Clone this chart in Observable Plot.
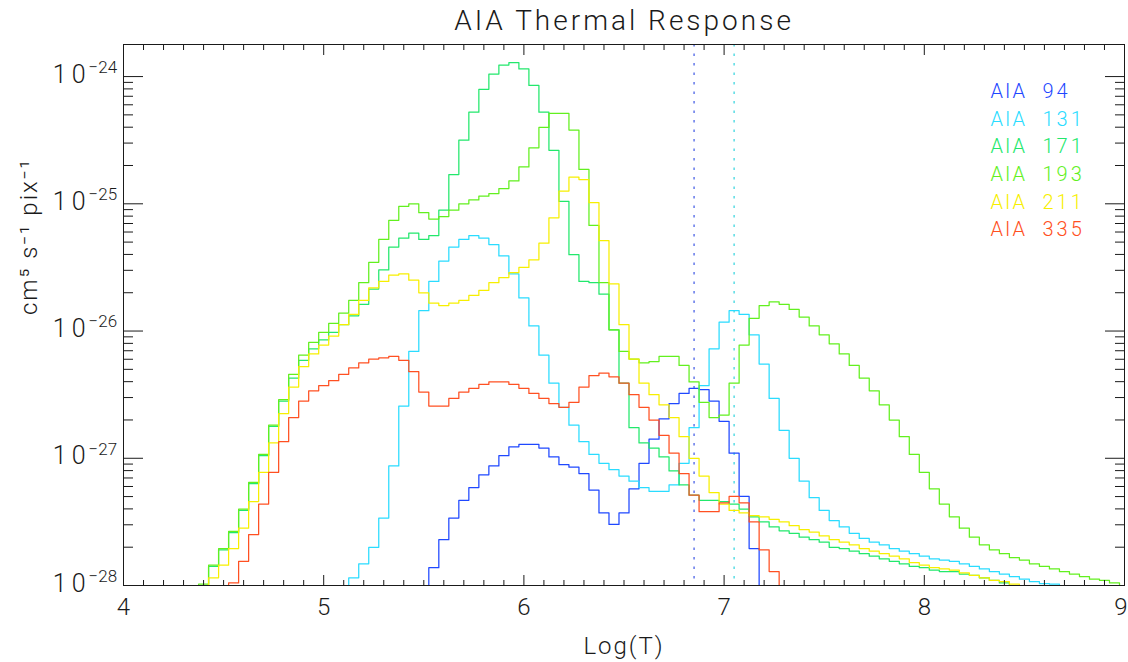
<!DOCTYPE html>
<html>
<head>
<meta charset="utf-8">
<script src="https://cdn.jsdelivr.net/npm/d3@7"></script>
<script src="https://cdn.jsdelivr.net/npm/@observablehq/plot@0.6"></script>
<style>
  html, body { margin: 0; padding: 0; background: #fff; }
  #chart svg { display: block; }
</style>
</head>
<body>
<div id="chart"></div>
<script>
// Temperature grid (log10 T)
const logT = [
  4.00,4.05,4.10,4.15,4.20,4.25,4.30,4.35,4.40,4.45,
  4.50,4.55,4.60,4.65,4.70,4.75,4.80,4.85,4.90,4.95,
  5.00,5.05,5.10,5.15,5.20,5.25,5.30,5.35,5.40,5.45,
  5.50,5.55,5.60,5.65,5.70,5.75,5.80,5.85,5.90,5.95,
  6.00,6.05,6.10,6.15,6.20,6.25,6.30,6.35,6.40,6.45,
  6.50,6.55,6.60,6.65,6.70,6.75,6.80,6.85,6.90,6.95,
  7.00,7.05,7.10,7.15,7.20,7.25,7.30,7.35,7.40,7.45,
  7.50,7.55,7.60,7.65,7.70,7.75,7.80,7.85,7.90,7.95,
  8.00,8.05,8.10,8.15,8.20,8.25,8.30,8.35,8.40,8.45,
  8.50,8.55,8.60,8.65,8.70,8.75,8.80,8.85,8.90,8.95,
  9.00
];

const channels = ["94", "131", "171", "193", "211", "335"];
const channelColors = ["#1f48ff", "#2adcff", "#22e86c", "#62f01e", "#f7ef00", "#ff5022"];

// log10 of response (cm^5 s^-1 pix^-1), each series starts at the given log T
const from94 = 5.50;
const resp94 = [-28.5,-27.86,-27.64,-27.47,-27.33,-27.23,-27.13,-27.06,-26.98,-26.91,
  -26.89,-26.89,-26.92,-26.99,-27.05,-27.07,-27.12,-27.25,-27.43,-27.52,
  -27.43,-27.24,-27.04,-26.85,-26.69,-26.57,-26.49,-26.45,-26.46,-26.55,
  -26.71,-26.96,-27.30,-27.71,-28.5];

const from131 = 5.10;
const resp131 = [-28.3,-27.94,-27.83,-27.70,-27.47,-27.06,-26.59,-26.16,-25.84,-25.61,
  -25.45,-25.34,-25.28,-25.25,-25.27,-25.32,-25.41,-25.55,-25.74,-25.96,
  -26.19,-26.41,-26.60,-26.74,-26.87,-26.97,-27.04,-27.09,-27.14,-27.18,
  -27.23,-27.26,-27.26,-27.21,-27.04,-26.76,-26.43,-26.14,-25.93,-25.84,
  -25.87,-26.03,-26.26,-26.53,-26.78,-27.00,-27.18,-27.31,-27.41,-27.49,
  -27.54,-27.59,-27.63,-27.66,-27.68,-27.71,-27.73,-27.75,-27.77,-27.79,
  -27.80,-27.81,-27.83,-27.85,-27.87,-27.89,-27.91,-27.93,-27.95,-27.97,
  -27.985,-27.99,-28.00,-28.02,-28.05];

const from171 = 4.35;
const resp171 = [-28.3,-28.00,-27.85,-27.72,-27.585,-27.41,-27.20,-26.98,-26.75,-26.55,
  -26.37,-26.23,-26.14,-26.07,-26.01,-25.95,-25.88,-25.79,-25.67,-25.52,
  -25.34,-25.27,-25.23,-25.28,-25.25,-25.05,-24.77,-24.50,-24.28,-24.10,
  -23.98,-23.91,-23.89,-23.94,-24.07,-24.28,-24.58,-24.98,-25.40,-25.61,
  -25.62,-25.71,-25.99,-26.41,-26.76,-26.88,-26.92,-26.99,-27.10,-27.21,
  -27.29,-27.33,-27.33,-27.34,-27.36,-27.40,-27.46,-27.50,-27.54,-27.57,
  -27.59,-27.62,-27.64,-27.66,-27.70,-27.71,-27.73,-27.75,-27.77,-27.79,
  -27.81,-27.83,-27.85,-27.86,-27.88,-27.89,-27.89,-27.91,-27.92,-27.94,
  -27.96,-27.98,-28.00,-28.02,-28.04];

const from193 = 4.35;
const resp193 = [-28.3,-27.99,-27.84,-27.71,-27.575,-27.40,-27.19,-26.97,-26.74,-26.54,
  -26.34,-26.19,-26.09,-26.01,-25.94,-25.86,-25.76,-25.62,-25.46,-25.28,
  -25.13,-25.02,-25.00,-25.07,-25.12,-25.10,-25.05,-25.00,-24.97,-24.94,
  -24.92,-24.88,-24.82,-24.71,-24.56,-24.40,-24.29,-24.29,-24.42,-24.73,
  -25.17,-25.62,-25.99,-26.16,-26.22,-26.25,-26.24,-26.20,-26.20,-26.27,
  -26.40,-26.56,-26.68,-26.66,-26.41,-26.11,-25.90,-25.80,-25.77,-25.79,
  -25.83,-25.89,-25.96,-26.03,-26.10,-26.18,-26.27,-26.37,-26.47,-26.58,
  -26.70,-26.83,-26.97,-27.11,-27.24,-27.36,-27.46,-27.55,-27.62,-27.68,
  -27.72,-27.75,-27.78,-27.80,-27.83,-27.85,-27.87,-27.89,-27.91,-27.93,
  -27.95,-27.96,-27.98,-28.00];

const from211 = 4.40;
const resp211 = [-28.3,-27.94,-27.84,-27.71,-27.55,-27.34,-27.11,-26.88,-26.65,-26.44,
  -26.28,-26.18,-26.11,-26.04,-25.95,-25.87,-25.76,-25.66,-25.61,-25.56,
  -25.55,-25.60,-25.70,-25.78,-25.80,-25.78,-25.76,-25.72,-25.68,-25.62,
  -25.58,-25.54,-25.50,-25.44,-25.31,-25.11,-24.90,-24.79,-24.81,-24.99,
  -25.29,-25.63,-25.95,-26.22,-26.41,-26.50,-26.58,-26.68,-26.83,-27.00,
  -27.14,-27.27,-27.36,-27.41,-27.43,-27.45,-27.46,-27.48,-27.50,-27.53,
  -27.56,-27.58,-27.61,-27.64,-27.66,-27.68,-27.71,-27.73,-27.75,-27.77,
  -27.79,-27.82,-27.84,-27.86,-27.87,-27.88,-27.90,-27.92,-27.94,-27.96,
  -27.97,-27.99,-28.00,-28.03,-28.05];

const from335 = 4.50;
const resp335 = [-28.3,-27.98,-27.81,-27.60,-27.36,-27.11,-26.87,-26.68,-26.55,-26.47,
  -26.43,-26.39,-26.34,-26.29,-26.25,-26.22,-26.21,-26.20,-26.23,-26.32,
  -26.48,-26.59,-26.59,-26.53,-26.48,-26.45,-26.42,-26.40,-26.40,-26.42,
  -26.45,-26.49,-26.53,-26.57,-26.60,-26.56,-26.44,-26.35,-26.33,-26.36,
  -26.41,-26.50,-26.60,-26.70,-26.82,-26.96,-27.12,-27.29,-27.42,-27.42,
  -27.35,-27.30,-27.35,-27.50,-27.72,-27.89,-28.5];

// Peak temperatures marked with dotted lines (94 and 131)
const peakLogT = [6.85, 7.05];
const peakColors = ["#4a62e6", "#3fd6e0"];

// Axis ticks and labels
const xMajor = [4, 5, 6, 7, 8, 9];
const yMajorExp = [-24, -25, -26, -27, -28];
const titleText = "AIA Thermal Response";
const xLabel = "Log(T)";
const yLabel = "cm\u2075 s\u207B\u00B9 pix\u207B\u00B9";

const seriesList = [
  [from94, resp94], [from131, resp131], [from171, resp171],
  [from193, resp193], [from211, resp211], [from335, resp335]
];

function buildRows(ch, from, vals) {
  const i0 = logT.findIndex(t => Math.abs(t - from) < 1e-9);
  return vals.map((v, i) => ({channel: ch, logT: logT[i0 + i], resp: Math.pow(10, v)}));
}

const xMinor = [];
for (let a = 4; a < 9; a++) for (let b = 1; b <= 9; b++) xMinor.push(+(a + b / 10).toFixed(1));
const yMinor = [];
for (let e = -28; e <= -25; e++) for (let m = 2; m <= 9; m++) yMinor.push(m * Math.pow(10, e));
const yMajor = yMajorExp.map(e => Math.pow(10, e));

const yTop = Math.pow(10, -23.748);
const font = "Roboto, 'DejaVu Sans', sans-serif";
const ink = "#1a1a1a";

const marks = [];

// dotted peak-temperature lines
peakLogT.forEach((t, i) => {
  marks.push(Plot.ruleX([t], {x: d => d, stroke: peakColors[i], strokeWidth: 1.3, strokeDasharray: "2.5,7"}));
});

// response curves
seriesList.forEach(([from, vals], i) => {
  marks.push(Plot.line(buildRows(channels[i], from, vals), {
    x: "logT", y: "resp", curve: "step", stroke: channelColors[i], strokeWidth: 1.25, clip: true
  }));
});

// frame and inward ticks
marks.push(Plot.frame({stroke: ink, strokeWidth: 1}));
marks.push(Plot.axisX({anchor: "bottom", ticks: xMajor, tickSize: 10, dy: -10, tickFormat: () => "", label: null, stroke: ink}));
marks.push(Plot.axisX({anchor: "bottom", ticks: xMinor, tickSize: 5, dy: -5, tickFormat: () => "", label: null, stroke: ink}));
marks.push(Plot.axisX({anchor: "top", ticks: xMajor, tickSize: 10, dy: 10, tickFormat: () => "", label: null, stroke: ink}));
marks.push(Plot.axisX({anchor: "top", ticks: xMinor, tickSize: 5, dy: 5, tickFormat: () => "", label: null, stroke: ink}));
marks.push(Plot.axisY({anchor: "left", ticks: yMajor, tickSize: 20, dx: 20, tickFormat: () => "", label: null, stroke: ink}));
marks.push(Plot.axisY({anchor: "left", ticks: yMinor, tickSize: 10, dx: 10, tickFormat: () => "", label: null, stroke: ink}));
marks.push(Plot.axisY({anchor: "right", ticks: yMajor, tickSize: 20, dx: -20, tickFormat: () => "", label: null, stroke: ink}));
marks.push(Plot.axisY({anchor: "right", ticks: yMinor, tickSize: 10, dx: -10, tickFormat: () => "", label: null, stroke: ink}));

// x tick labels (last one kept inside the picture)
marks.push(Plot.text(xMajor.slice(0, -1), {x: d => d, frameAnchor: "bottom", dy: 22, text: d => String(d), fontSize: 24, lineAnchor: "middle", fill: ink}));
marks.push(Plot.text(xMajor.slice(-1), {x: d => d, frameAnchor: "bottom", dy: 22, dx: 3, textAnchor: "end", text: d => String(d), fontSize: 24, lineAnchor: "middle", fill: ink}));
// y tick labels: "10" with superscript exponent
marks.push(Plot.text(yMajorExp, {y: d => Math.pow(10, d), frameAnchor: "left", dx: -33, dy: -2, textAnchor: "end", lineAnchor: "middle", text: () => "10", fontSize: 25, fill: ink}));
marks.push(Plot.text(yMajorExp, {y: d => Math.pow(10, d), frameAnchor: "left", dx: -35, dy: -9, textAnchor: "start", lineAnchor: "middle", text: d => "\u2212" + Math.abs(d), fontSize: 17, fill: ink}));

// titles
marks.push(Plot.text([titleText], {frameAnchor: "top", dy: -23, text: d => d, fontSize: 28, lineAnchor: "middle", fill: ink}));
marks.push(Plot.text([xLabel], {frameAnchor: "bottom", dy: 61, text: d => d, fontSize: 24, lineAnchor: "middle", fill: ink}));
marks.push(Plot.text([yLabel], {frameAnchor: "left", dx: -94, rotate: -90, text: d => d, fontSize: 24, lineAnchor: "middle", fill: ink}));

// legend
channels.forEach((c, i) => {
  marks.push(Plot.text([c], {frameAnchor: "top-right", dx: -134, dy: 47 + 27.7 * i, text: () => "AIA", textAnchor: "start", lineAnchor: "middle", fontSize: 20, fill: channelColors[i]}));
  marks.push(Plot.text([c], {frameAnchor: "top-right", dx: -82, dy: 47 + 27.7 * i, text: d => d, textAnchor: "start", lineAnchor: "middle", fontSize: 20, fill: channelColors[i]}));
});

const chart = Plot.plot({
  width: 1128,
  height: 662,
  marginLeft: 123,
  marginRight: 4,
  marginTop: 44,
  marginBottom: 77,
  x: {domain: [4, 9]},
  y: {type: "log", domain: [1e-28, yTop]},
  style: {fontFamily: font, background: "#fff", color: ink, fontWeight: 300},
  marks
});
document.getElementById("chart").appendChild(chart);

// wide, spaced lettering like the original vector font
const spacing = new Map([
  [titleText, "3px"], [xLabel, "2px"], [yLabel, "2px"], ["10", "5px"], ["AIA", "2px"]
]);
channels.forEach(c => spacing.set(c, "3px"));
d3.select(chart).selectAll("text").each(function () {
  const s = spacing.get(this.textContent);
  if (s) this.style.letterSpacing = s;
});
</script>
</body>
</html>
